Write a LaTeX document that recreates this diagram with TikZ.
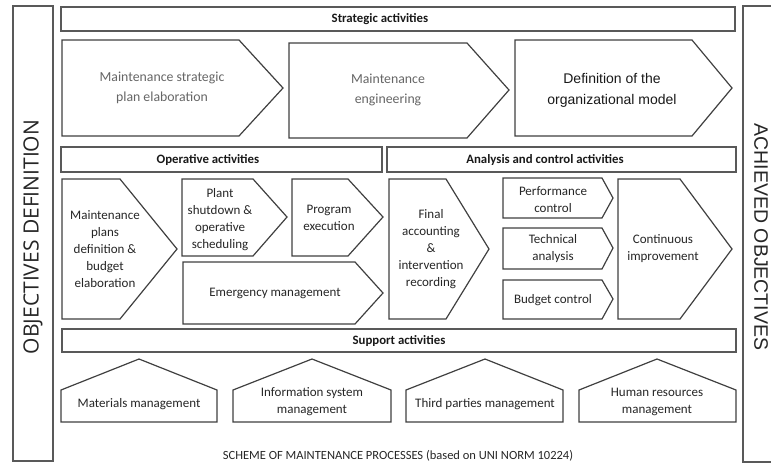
\documentclass[tikz,border=0pt]{standalone}
\usepackage{fontspec}
\setmainfont{Carlito}
\newfontfamily\arialfont{Liberation Sans}
\newfontfamily\opensans{Open Sans}
\begin{document}
\begin{tikzpicture}[x=1pt,y=-1pt,
  frame/.style={draw=black!65,line width=1.4pt},
  procbox/.style={draw=black!75,line width=1.2pt,fill=white},
  head/.style={font=\fontsize{12.8}{14}\selectfont\bfseries,text=black!90},
  txt/.style={align=center,font=\fontsize{13}{17}\selectfont,text=black!85},
  light/.style={align=center,font=\fontsize{13.8}{20}\selectfont,text=black!60}]
  \useasboundingbox (0,0) rectangle (771,464);
  % side frames
  \draw[frame] (13,6) rectangle (53,461);
  \draw[frame] (743,6) rectangle (790,462);
  \node[rotate=90,font=\opensans\fontsize{21}{24}\selectfont,text=black!85] (objdef) at (33,237) {OBJECTIVES DEFINITION};
  \node[rotate=-90,font=\arialfont\fontsize{19.5}{22}\selectfont,text=black!85] (achobj) at (761,237) {ACHIEVED OBJECTIVES};
  % headers
  \draw[frame] (61,7) rectangle (735,31);
  \node[head] (strat) at (380,19) {Strategic activities};
  \draw[frame] (61,147) rectangle (382,172);
  \node[head] (oper) at (208,160) {Operative activities};
  \draw[frame] (387,147) rectangle (736,172);
  \node[head] (anal) at (545,160) {Analysis and control activities};
  \draw[frame] (62,329) rectangle (736,352);
  \node[head] (supp) at (399,341) {Support activities};
  % strategic
  \draw[procbox] (62,40) -- (239,40) -- (283,88) -- (239,136) -- (62,136) -- cycle;
  \node[light] (msp) at (162,88) {Maintenance strategic\\plan elaboration};
  \draw[procbox] (289,43) -- (467,43) -- (509,90) -- (467,138) -- (289,138) -- cycle;
  \node[light] (meng) at (388,90) {Maintenance\\engineering};
  \draw[procbox] (515,40) -- (692,40) -- (732,88) -- (692,136) -- (515,136) -- cycle;
  \node[light,text=black!90,font=\arialfont\fontsize{14}{21}\selectfont] (orgm) at (612,90) {Definition of the\\organizational model};
  % operative
  \draw[procbox] (62,179) -- (120,179) -- (177,249) -- (120,319) -- (62,319) -- cycle;
  \node[txt] (mpd) at (105,249) {Maintenance\\plans\\definition \&\\budget\\elaboration};
  \draw[procbox] (182,179) -- (253,179) -- (287,217) -- (253,256) -- (182,256) -- cycle;
  \node[txt] (psd) at (220,220) {Plant\\shutdown \&\\operative\\scheduling};
  \draw[procbox] (292,179) -- (348,179) -- (383,217) -- (348,256) -- (292,256) -- cycle;
  \node[txt] (pex) at (329,218) {Program\\execution};
  \draw[procbox] (183,262) -- (355,262) -- (383,293) -- (355,324) -- (183,324) -- cycle;
  \node[txt] (emg) at (275,293) {Emergency management};
  % analysis and control
  \draw[procbox] (389,179) -- (446,179) -- (489,249) -- (446,319) -- (389,319) -- cycle;
  \node[txt] (fac) at (431,249) {Final\\accounting\\\&\\intervention\\recording};
  \draw[procbox] (503,178) -- (602,178) -- (613,198) -- (602,218) -- (503,218) -- cycle;
  \node[txt] (pfc) at (553,200) {Performance\\control};
  \draw[procbox] (503,228) -- (602,228) -- (613,248) -- (602,269) -- (503,269) -- cycle;
  \node[txt] (tan) at (553,249) {Technical\\analysis};
  \draw[procbox] (503,280) -- (602,280) -- (613,299) -- (602,319) -- (503,319) -- cycle;
  \node[txt] (bdc) at (553,300) {Budget control};
  \draw[procbox] (618,179) -- (680,179) -- (732,249) -- (680,319) -- (618,319) -- cycle;
  \node[txt] (cim) at (663,249) {Continuous\\improvement};
  % support
  \draw[procbox] (61,422) -- (61,390) -- (139,359) -- (217,390) -- (217,422) -- cycle;
  \node[txt] (mat) at (139,404) {Materials management};
  \draw[procbox] (233,422) -- (233,390) -- (312,359) -- (391,390) -- (391,422) -- cycle;
  \node[txt] (ism) at (312,402) {Information system\\management};
  \draw[procbox] (406,422) -- (406,390) -- (485,359) -- (563,390) -- (563,422) -- cycle;
  \node[txt] (tpm) at (485,404) {Third parties management};
  \draw[procbox] (579,422) -- (579,390) -- (657,359) -- (736,390) -- (736,422) -- cycle;
  \node[txt] (hrm) at (657,402) {Human resources\\management};
  % caption
  \node[font=\fontsize{12.5}{14}\selectfont,text=black!85] (cap) at (398,456) {SCHEME OF MAINTENANCE PROCESSES (based on UNI NORM 10224)};
\end{tikzpicture}
\end{document}
